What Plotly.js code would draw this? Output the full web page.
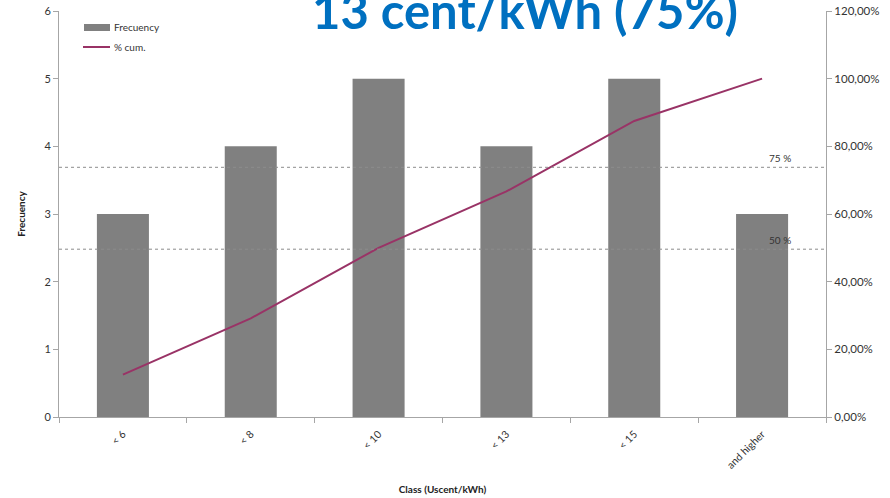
<!DOCTYPE html>
<html>
<head>
<meta charset="utf-8">
<script src="https://cdn.plot.ly/plotly-3.0.1.min.js"></script>
<style>html,body{margin:0;padding:0;background:#fff}#chart{width:890px;height:498px}</style>
</head>
<body>
<div id="chart"></div>
<script>
const categories = ["< 6", "< 8", "< 10", "< 13", "< 15", "and higher"];
const frequency = [3, 4, 5, 4, 5, 3];
const cumPercent = [12.5, 29.17, 50, 66.67, 87.5, 100];
const refLevels = [73.8, 49.6];
const refLabels = ["75 %", "50 %"];
const seriesNames = ["Frecuency", "% cum."];
const titleText = "13 cent/kWh (75%)";

const FONT = "Lato, 'Liberation Sans', sans-serif";
const axisGray = "#a6a6a6";
const barColor = "#808080";
const lineColor = "#993366";

const traces = [
  {
    type: "bar", name: seriesNames[0], x: categories, y: frequency,
    marker: {color: barColor}, yaxis: "y", showlegend: false
  },
  {
    type: "scatter", mode: "lines", name: seriesNames[1], x: categories, y: cumPercent,
    line: {color: lineColor, width: 2}, yaxis: "y2", showlegend: false
  }
];

const shapes = refLevels.map(v => ({
  type: "line", xref: "paper", yref: "y2", x0: 0, x1: 1, y0: v, y1: v,
  line: {color: "#8c8c8c", width: 1, dash: "3px,3px"}
}));
// custom legend symbols (paper coordinates)
shapes.push({type: "rect", xref: "paper", yref: "paper", x0: 0.0326, x1: 0.0665, y0: 0.9507, y1: 0.968,
  fillcolor: barColor, line: {width: 0}});
shapes.push({type: "line", xref: "paper", yref: "paper", x0: 0.0313, x1: 0.0665, y0: 0.9113, y1: 0.9113,
  line: {color: lineColor, width: 2}});

const annotations = refLevels.map((v, i) => ({
  xref: "paper", yref: "y2", x: 0.957, y: v, xanchor: "right", yanchor: "bottom",
  text: refLabels[i], showarrow: false, font: {family: FONT, size: 10, color: "#333"}, yshift: 1
}));
annotations.push({xref: "paper", yref: "paper", x: 0.0691, y: 0.9606, xanchor: "left", yanchor: "middle",
  text: seriesNames[0], showarrow: false, font: {family: FONT, size: 10, color: "#333"}});
annotations.push({xref: "paper", yref: "paper", x: 0.0691, y: 0.9113, xanchor: "left", yanchor: "middle",
  text: seriesNames[1], showarrow: false, font: {family: FONT, size: 10, color: "#333"}});
annotations.push({
  xref: "paper", yref: "paper", x: 0.6076, y: 1.0025, xanchor: "center", yanchor: "middle",
  text: "<b>" + titleText + "</b>", showarrow: false,
  font: {family: FONT, size: 49, color: "#0070c0"}
});

const layout = {
  width: 890, height: 498,
  margin: {l: 59, r: 64, t: 11, b: 81},
  paper_bgcolor: "#fff", plot_bgcolor: "#fff",
  separators: ",.",
  font: {family: FONT, size: 10, color: "#333"},
  bargap: 0.593,
  showlegend: false,
  xaxis: {
    type: "category", tickangle: -45, showgrid: false, showline: true, linecolor: axisGray,
    ticks: "outside", ticklen: 5, tickcolor: axisGray, tickson: "boundaries",
    ticklabelstandoff: 6,
    tickfont: {family: FONT, size: 10.5, color: "#333"},
    title: {text: "<b>Class (Uscent/kWh)</b>", font: {family: FONT, size: 10, color: "#222"}, standoff: 16}
  },
  yaxis: {
    range: [0, 6], dtick: 1, showgrid: false, zeroline: false, showline: true, linecolor: axisGray,
    ticks: "outside", ticklen: 5, tickcolor: axisGray,
    tickfont: {family: FONT, size: 11, color: "#333"},
    title: {text: "<b>Frecuency</b>", font: {family: FONT, size: 10, color: "#222"}, standoff: 16}
  },
  yaxis2: {
    range: [0, 120], dtick: 20, overlaying: "y", side: "right", showgrid: false, zeroline: false,
    showline: true, linecolor: axisGray, ticks: "outside", ticklen: 5, tickcolor: axisGray,
    tickformat: ".2f", ticksuffix: "%",
    tickfont: {family: FONT, size: 11.5, color: "#333"}
  },
  shapes: shapes,
  annotations: annotations
};

Plotly.newPlot("chart", traces, layout, {displayModeBar: false, staticPlot: true});
</script>
</body>
</html>
